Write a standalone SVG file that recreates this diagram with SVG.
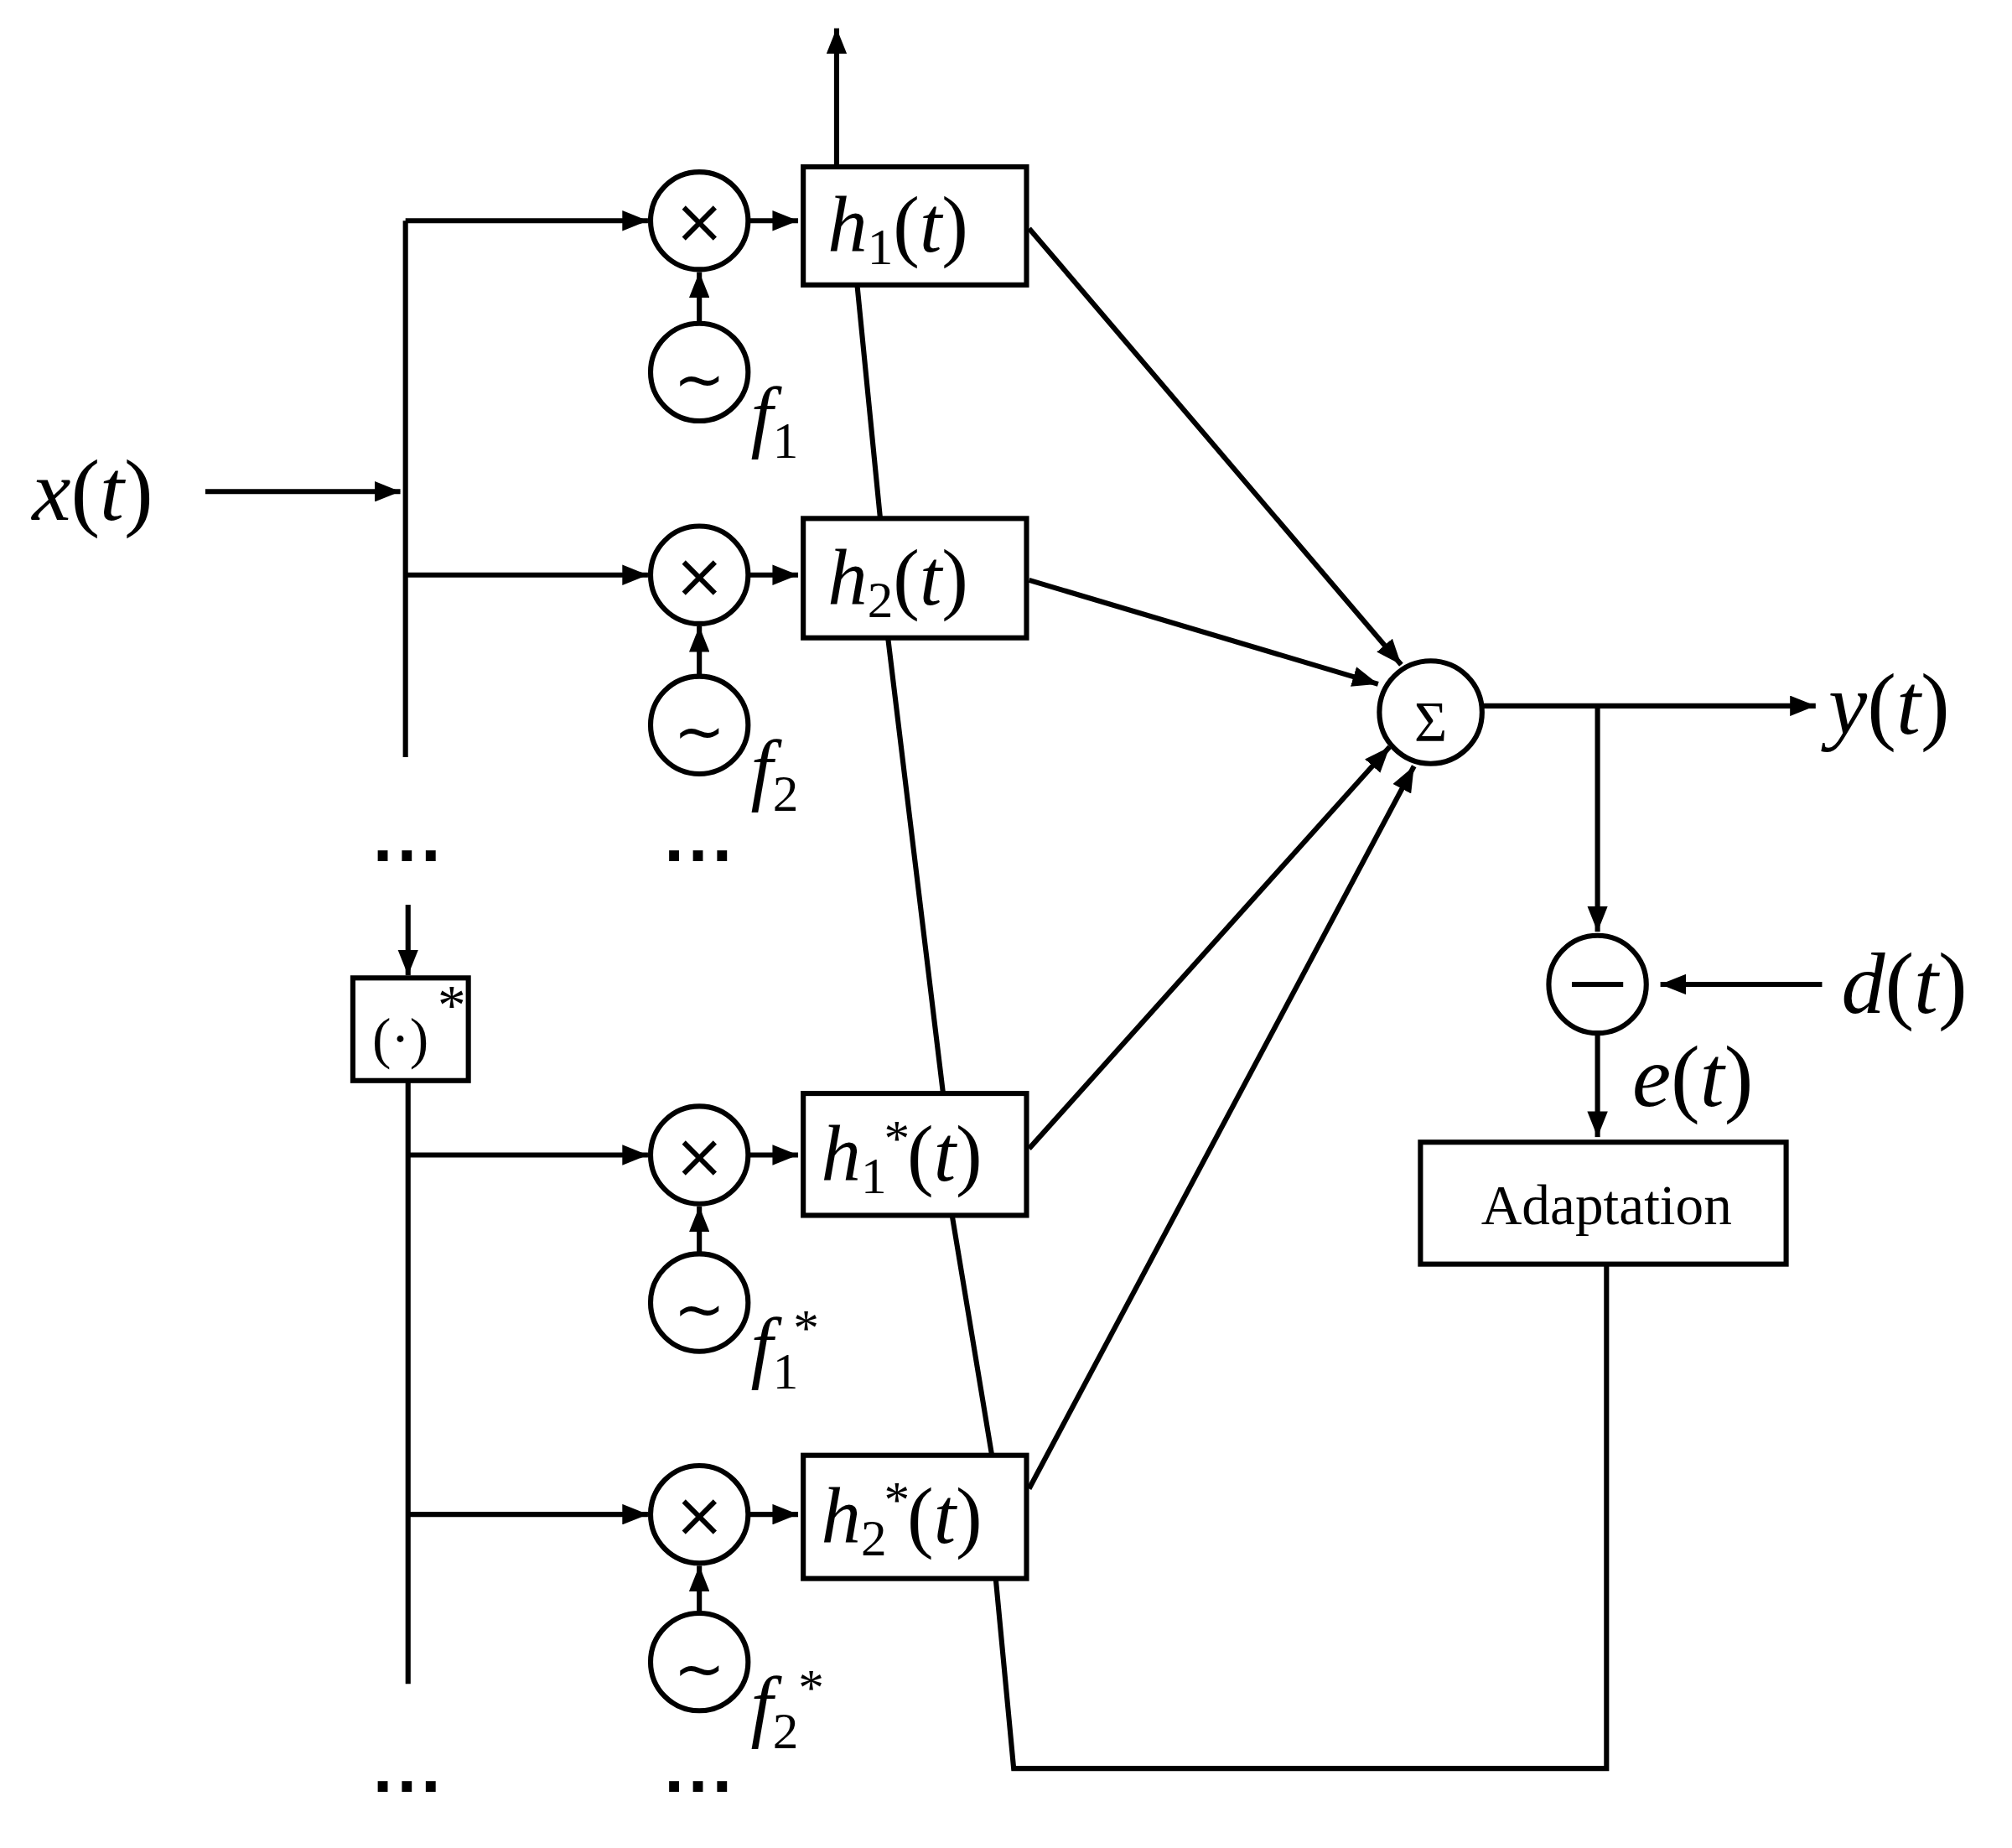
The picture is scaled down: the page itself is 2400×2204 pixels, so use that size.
<svg xmlns="http://www.w3.org/2000/svg" width="2400" height="2204" viewBox="0 0 2400 2204">
<defs>
<marker id="ar" viewBox="0 0 20 16" refX="20" refY="8" markerWidth="20" markerHeight="16" markerUnits="userSpaceOnUse" orient="auto"><path d="M0,0L20,8L0,16z" fill="#000"/></marker>
<style>
.l{stroke:#000;stroke-width:4;fill:none}
.a{stroke:#000;stroke-width:4;fill:none;marker-end:url(#ar)}
.n{stroke:#000;stroke-width:4;fill:#fff}
.m{font-family:"Liberation Serif",serif;font-style:italic;font-size:62px;fill:#000}
.o{font-size:68px}
.s{font-size:40px}
.r{font-family:"DejaVu Sans",sans-serif;font-size:48px;fill:#000;text-anchor:middle}
.t{font-family:"Liberation Serif",serif;font-size:44px;fill:#000;text-anchor:middle}
.d{font-family:"DejaVu Sans",sans-serif;font-size:44px;font-weight:bold;fill:#000;text-anchor:middle;letter-spacing:2px}
</style>
</defs>
<rect width="2400" height="2204" fill="#fff"/>
<g transform="scale(1.5306)">
<g id="connectors">
<path class="a" d="M160,383H312"/>
<path class="l" d="M316,172V590"/>
<path class="a" d="M316,172H505"/>
<path class="a" d="M316,448H505"/>
<path class="a" d="M318,705V760"/>
<path class="l" d="M318,842V1312"/>
<path class="a" d="M318,900H505"/>
<path class="a" d="M318,1180H505"/>
<path class="a" d="M583,172H622"/><path class="a" d="M583,448H622"/><path class="a" d="M583,900H622"/><path class="a" d="M583,1180H622"/>
<path class="a" d="M545,252V212"/><path class="a" d="M545,527V488"/><path class="a" d="M545,977V940"/><path class="a" d="M545,1257V1220"/>
<path class="a" d="M652,130V22"/>
<path class="l" d="M668,222L686,404M692,497L735,852M742,947L773,1134M776,1230L790,1378H1252V985"/>
<path class="a" d="M802,178L1092,518"/>
<path class="a" d="M802,452L1074,533"/>
<path class="a" d="M802,895L1083,582"/>
<path class="a" d="M802,1160L1102,597"/>
<path class="a" d="M1155,550H1415"/>
<path class="a" d="M1245,550V726"/>
<path class="a" d="M1420,767H1294"/>
<path class="a" d="M1245,805V886"/>
</g>
<g id="mult"><circle class="n" cx="545" cy="172" r="38"/><circle class="n" cx="545" cy="448" r="38"/><circle class="n" cx="545" cy="900" r="38"/><circle class="n" cx="545" cy="1180" r="38"/>
<text class="r" x="545" y="189">×</text><text class="r" x="545" y="465">×</text><text class="r" x="545" y="917">×</text><text class="r" x="545" y="1197">×</text></g>
<g id="osc"><circle class="n" cx="545" cy="290" r="38"/><circle class="n" cx="545" cy="565" r="38"/><circle class="n" cx="545" cy="1015" r="38"/><circle class="n" cx="545" cy="1295" r="38"/>
<text class="r" x="545" y="312" font-size="72">~</text><text class="r" x="545" y="587" font-size="72">~</text><text class="r" x="545" y="1037" font-size="72">~</text><text class="r" x="545" y="1317" font-size="72">~</text>
<text class="m" x="585" y="345">f<tspan class="s" dy="12" font-style="normal">1</tspan></text>
<text class="m" x="585" y="620">f<tspan class="s" dy="12" font-style="normal">2</tspan></text>
<text class="m" x="585" y="1070">f<tspan class="s" dy="12" font-style="normal">1</tspan><tspan class="s" dx="-4" dy="-34" font-style="normal">*</tspan></text>
<text class="m" x="585" y="1350">f<tspan class="s" dy="12" font-style="normal">2</tspan><tspan class="s" dy="-34" font-style="normal">*</tspan></text></g>
<g id="boxes">
<rect class="n" x="626" y="130" width="174" height="92"/><text class="m" x="645" y="196">h<tspan class="s" dy="10" font-style="normal">1</tspan><tspan dy="-10" font-style="normal">(</tspan>t<tspan font-style="normal">)</tspan></text>
<rect class="n" x="626" y="404" width="174" height="93"/><text class="m" x="645" y="471">h<tspan class="s" dy="10" font-style="normal">2</tspan><tspan dy="-10" font-style="normal">(</tspan>t<tspan font-style="normal">)</tspan></text>
<rect class="n" x="626" y="852" width="174" height="95"/><text class="m" x="640" y="920">h<tspan class="s" dy="10" font-style="normal">1</tspan><tspan class="s" dx="-2" dy="-30" font-style="normal">*</tspan><tspan dx="-2" dy="20" font-style="normal">(</tspan>t<tspan font-style="normal">)</tspan></text>
<rect class="n" x="626" y="1134" width="174" height="96"/><text class="m" x="640" y="1202">h<tspan class="s" dy="10" font-style="normal">2</tspan><tspan class="s" dx="-2" dy="-30" font-style="normal">*</tspan><tspan dx="-2" dy="20" font-style="normal">(</tspan>t<tspan font-style="normal">)</tspan></text>
</g>
<g id="conj"><rect class="n" x="275" y="762" width="90" height="80"/><text class="t" x="312" y="824" font-size="64">(·)</text><text class="t" x="352" y="798" font-size="40">*</text></g>
<g id="sum"><circle class="n" cx="1115" cy="555" r="40"/><text class="t" x="1115" y="577" font-size="64">Σ</text></g>
<g id="minus"><circle class="n" cx="1245" cy="767" r="38"/><path class="l" d="M1225,767H1265"/></g>
<g id="adapt"><rect class="n" x="1107" y="890" width="285" height="95"/><text class="t" x="1252" y="954">Adaptation</text></g>
<g id="labels">
<text class="m o" x="25" y="405">x<tspan font-style="normal">(</tspan>t<tspan font-style="normal">)</tspan></text>
<text class="m o" x="1425" y="572">y<tspan font-style="normal">(</tspan>t<tspan font-style="normal">)</tspan></text>
<text class="m o" x="1435" y="789">d<tspan font-style="normal">(</tspan>t<tspan font-style="normal">)</tspan></text>
<text class="m o" x="1272" y="862">e<tspan font-style="normal">(</tspan>t<tspan font-style="normal">)</tspan></text>
<text class="d" x="318" y="682">···</text><text class="d" x="545" y="682">···</text>
<text class="d" x="318" y="1407">···</text><text class="d" x="545" y="1407">···</text>
</g>
</g>
</svg>
